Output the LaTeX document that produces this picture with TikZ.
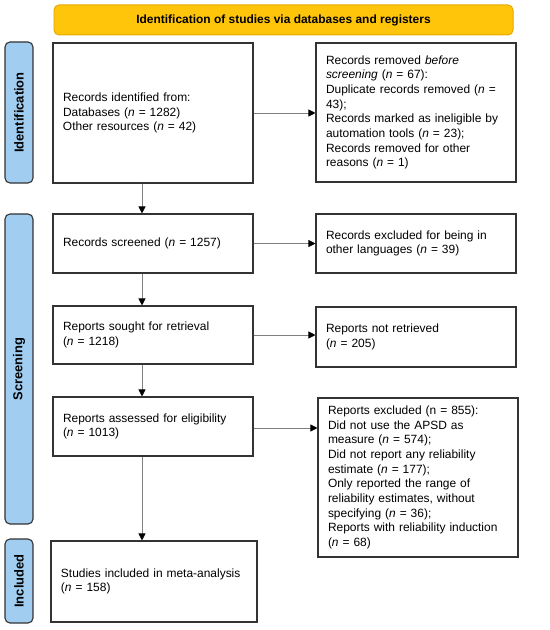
\documentclass[tikz,border=0pt]{standalone}
\usepackage{fontspec}
\setmainfont{Liberation Sans}
\usetikzlibrary{arrows.meta}
\definecolor{banner}{HTML}{FFC50A}
\definecolor{bannerline}{HTML}{E8A900}
\definecolor{side}{HTML}{A0CDF0}
\definecolor{boxline}{HTML}{333333}
\definecolor{arr}{HTML}{808080}
\tikzset{
  flowbox/.style={draw=boxline, line width=1.1pt, fill=white, inner sep=0pt, text width=#1, align=left, font=\fontsize{12}{14.7}\selectfont},
  sidebox/.style={draw=boxline, line width=1.1pt, fill=side, rounded corners=5pt},
  sidetext/.style={rotate=90, font=\fontsize{13}{15}\selectfont\bfseries},
  flowarrow/.style={draw=arr, line width=0.8pt, -{Triangle[length=7pt,width=7pt,fill=black,color=black]}}
}
\begin{document}
\begin{tikzpicture}[x=1bp,y=-1bp]
\useasboundingbox (0,0) rectangle (550,630);
% banner
\node[draw=bannerline, fill=banner, line width=1pt, rounded corners=5pt, minimum width=459bp, minimum height=30bp, font=\fontsize{12}{14}\selectfont\bfseries] (ban) at (283.5,20) {Identification of studies via databases and registers};
% side boxes
\node[sidebox, minimum width=28bp, minimum height=141bp] (sid) at (19,112.5) {};
\node[sidetext] (sidt) at (sid.center) {Identification};
\node[sidebox, minimum width=28bp, minimum height=310bp] (sscr) at (19,369) {};
\node[sidetext] (sscrt) at (sscr.center) {Screening};
\node[sidebox, minimum width=28bp, minimum height=84bp] (sinc) at (19,581) {};
\node[sidetext] (sinct) at (sinc.center) {Included};
% boxes
\node[flowbox=180bp, minimum width=200bp, minimum height=140bp] (b1) at (153,113) {Records identified from:\\Databases (\textit{n} = 1282)\\Other resources (\textit{n} = 42)};
\node[flowbox=180bp, minimum width=200bp, minimum height=139bp] (r1) at (416,112.5) {Records removed \textit{before}\\\textit{screening} (\textit{n} = 67):\\Duplicate records removed (\textit{n} =\\43);\\Records marked as ineligible by\\automation tools (\textit{n} = 23);\\Records removed for other\\reasons (\textit{n} = 1)};
\node[flowbox=180bp, minimum width=200bp, minimum height=59bp] (b2) at (153,243.5) {Records screened (\textit{n} = 1257)};
\node[flowbox=180bp, minimum width=200bp, minimum height=59bp] (r2) at (416,243.5) {Records excluded for being in\\other languages (\textit{n} = 39)};
\node[flowbox=180bp, minimum width=200bp, minimum height=58bp] (b3) at (153,335) {Reports sought for retrieval\\(\textit{n} = 1218)};
\node[flowbox=180bp, minimum width=200bp, minimum height=60bp] (r3) at (416,337) {Reports not retrieved\\(\textit{n} = 205)};
\node[flowbox=180bp, minimum width=200bp, minimum height=59bp] (b4) at (153,426.5) {Reports assessed for eligibility\\(\textit{n} = 1013)};
\node[flowbox=180bp, minimum width=200bp, minimum height=159bp] (r4) at (418,477.5) {Reports excluded (n = 855):\\Did not use the APSD as\\measure (\textit{n} = 574);\\Did not report any reliability\\estimate (\textit{n} = 177);\\Only reported the range of\\reliability estimates, without\\specifying (\textit{n} = 36);\\Reports with reliability induction\\(\textit{n} = 68)};
\node[flowbox=186bp, minimum width=206bp, minimum height=81bp] (b5) at (154,581.5) {Studies included in meta-analysis\\(\textit{n} = 158)};
% arrows
\draw[flowarrow] (b1.east) -- (r1.west |- b1.east);
\draw[flowarrow] (b2.east) -- (r2.west |- b2.east);
\draw[flowarrow] (b3.east) -- (r3.west |- b3.east);
\draw[flowarrow] (b4.east |- 0,428) -- (r4.west |- 0,428);
\draw[flowarrow] (b1.south -| 142,0) -- (b2.north -| 142,0);
\draw[flowarrow] (b2.south -| 142,0) -- (b3.north -| 142,0);
\draw[flowarrow] (b3.south -| 142,0) -- (b4.north -| 142,0);
\draw[flowarrow] (b4.south -| 142,0) -- (b5.north -| 142,0);
\end{tikzpicture}
\end{document}
